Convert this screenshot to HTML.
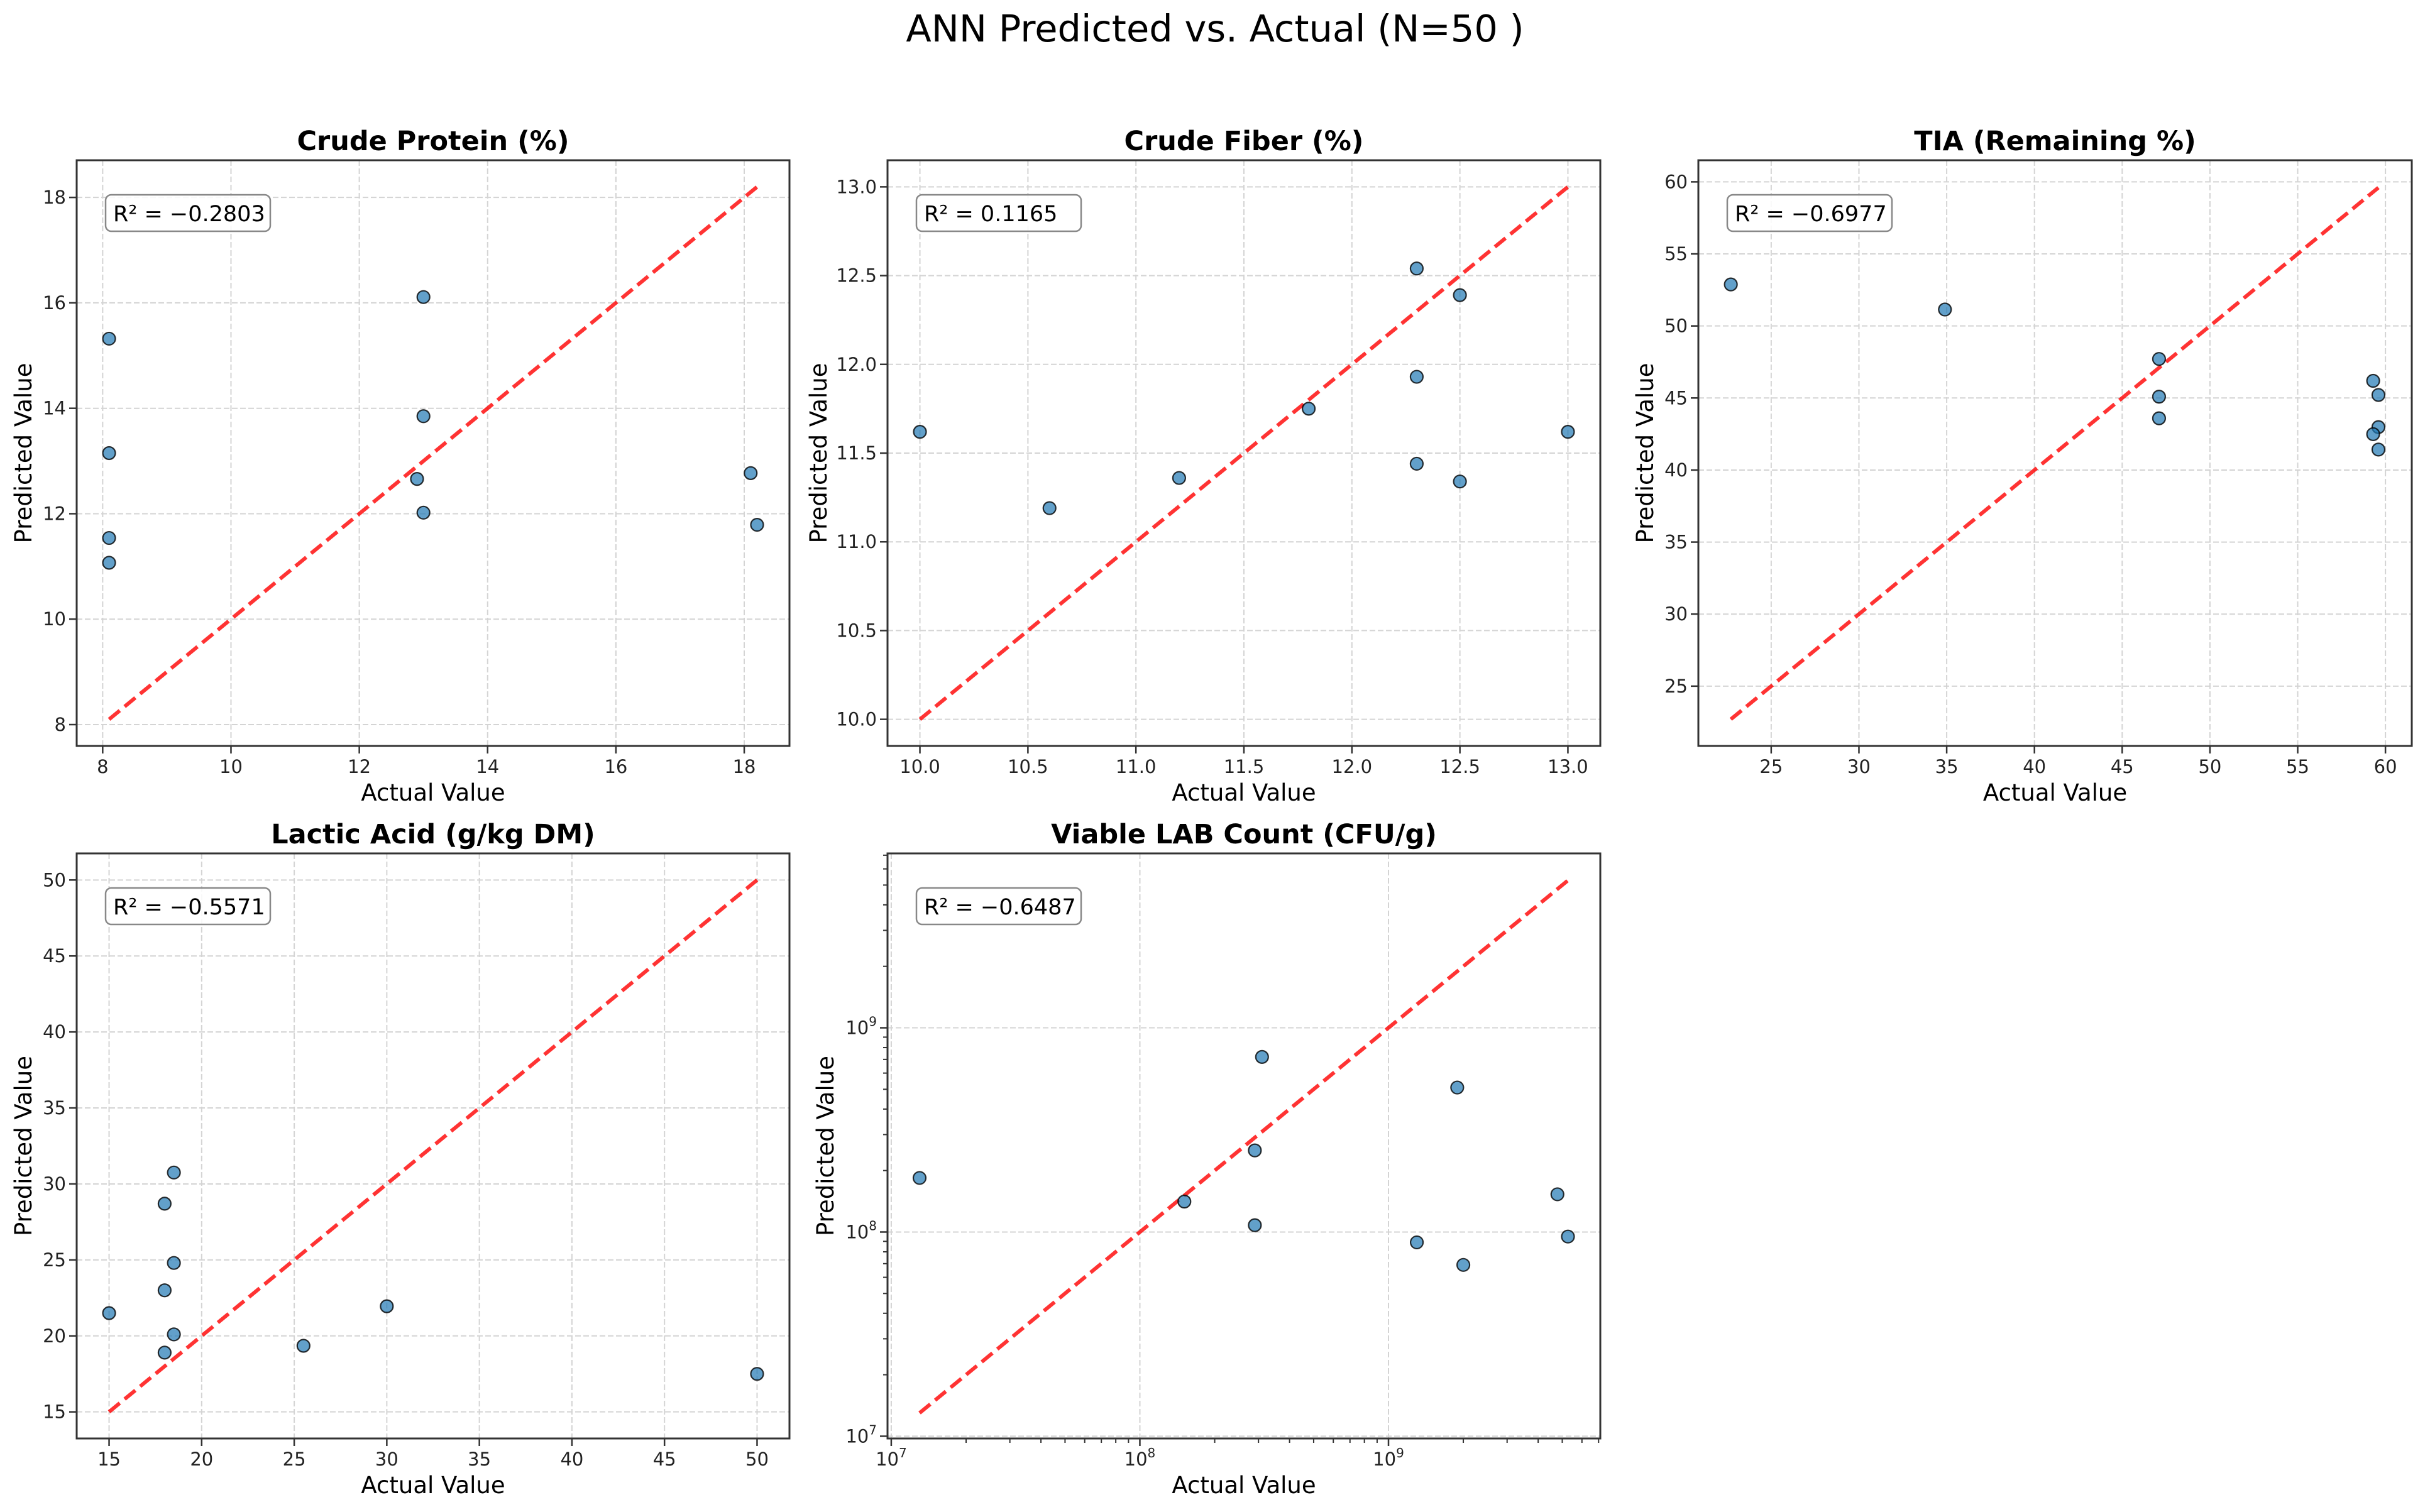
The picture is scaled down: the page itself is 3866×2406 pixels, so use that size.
<!DOCTYPE html>
<html><head><meta charset="utf-8"><style>
html,body{margin:0;padding:0;background:#fff;}
svg{display:block;font-family:"DejaVu Sans","Liberation Sans",sans-serif;}
</style></head><body>
<svg id="fig" width="3866" height="2406" viewBox="0 0 3866 2406" xmlns="http://www.w3.org/2000/svg">
<rect width="3866" height="2406" fill="#fff"/>
<text x="1933" y="66" text-anchor="middle" font-size="59" fill="#000">ANN Predicted vs. Actual (N=50 )</text>
</svg>
<script>
// ---- data ----
const cpActual = [8.1, 8.1, 8.1, 8.1, 13.0, 13.0, 12.9, 13.0, 18.1, 18.2];
const cpPred   = [15.32, 13.15, 11.54, 11.07, 16.11, 13.85, 12.66, 12.02, 12.77, 11.79];
const cfActual = [10.0, 10.6, 11.2, 11.8, 12.3, 12.3, 12.3, 12.5, 12.5, 13.0];
const cfPred   = [11.62, 11.19, 11.36, 11.75, 12.54, 11.93, 11.44, 12.39, 11.34, 11.62];
const tiaActual = [22.7, 34.9, 47.1, 47.1, 47.1, 59.3, 59.6, 59.6, 59.3, 59.6];
const tiaPred   = [52.88, 51.14, 47.71, 45.09, 43.59, 46.19, 45.21, 42.98, 42.49, 41.42];
const laActual = [15, 18, 18, 18, 18.5, 18.5, 18.5, 25.5, 30, 50];
const laPred   = [21.5, 28.7, 23.0, 18.9, 30.75, 24.8, 20.1, 19.35, 21.95, 17.5];
const labActual = [1.3e7, 1.51e8, 2.9e8, 2.9e8, 3.1e8, 1.3e9, 1.89e9, 2.0e9, 4.78e9, 5.27e9];
const labPred   = [1.84e8, 1.41e8, 1.08e8, 2.51e8, 7.2e8, 8.9e7, 5.1e8, 6.9e7, 1.53e8, 9.5e7];
const cpTicks = [8, 10, 12, 14, 16, 18];
const cpTickLabels = ["8","10","12","14","16","18"];
const cfTicks = [10, 10.5, 11, 11.5, 12, 12.5, 13];
const cfTickLabels = ["10.0","10.5","11.0","11.5","12.0","12.5","13.0"];
const tiaXTicks = [25, 30, 35, 40, 45, 50, 55, 60];
const tiaYTicks = [25, 30, 35, 40, 45, 50, 55, 60];
const laTicks = [15, 20, 25, 30, 35, 40, 45, 50];
const labExps = [7, 8, 9];
const titles = ["Crude Protein (%)", "Crude Fiber (%)", "TIA (Remaining %)", "Lactic Acid (g/kg DM)", "Viable LAB Count (CFU/g)"];
const r2Values = ["\u22120.2803", "0.1165", "\u22120.6977", "\u22120.5571", "\u22120.6487"];

const NS = "http://www.w3.org/2000/svg";
const svg = document.getElementById('fig');
function mk(tag, attrs, parent) {
  const e = document.createElementNS(NS, tag);
  for (const k in attrs) e.setAttribute(k, attrs[k]);
  (parent || svg).appendChild(e);
  return e;
}

const panels = [
  {L:122,R:1256,T:255,B:1187,xmin:7.595,xmax:18.705,ymin:7.595,ymax:18.705,log:false,ax:cpActual,pr:cpPred,xt:cpTicks,xtl:cpTickLabels,yt:cpTicks,ytl:cpTickLabels,ylx:37},
  {L:1412,R:2546,T:255,B:1187,xmin:9.85,xmax:13.15,ymin:9.85,ymax:13.15,log:false,ax:cfActual,pr:cfPred,xt:cfTicks,xtl:cfTickLabels,yt:cfTicks,ytl:cfTickLabels,ylx:1302},
  {L:2702,R:3837,T:255,B:1187,xmin:20.85,xmax:61.5,ymin:20.85,ymax:61.5,log:false,ax:tiaActual,pr:tiaPred,xt:tiaXTicks,xtl:tiaXTicks.map(String),yt:tiaYTicks,ytl:tiaYTicks.map(String),ylx:2617},
  {L:122,R:1256,T:1358,B:2289,xmin:13.25,xmax:51.75,ymin:13.25,ymax:51.75,log:false,ax:laActual,pr:laPred,xt:laTicks,xtl:laTicks.map(String),yt:laTicks,ytl:laTicks.map(String),ylx:37},
  {L:1412,R:2546,T:1358,B:2289,xmin:6.985,xmax:9.852,ymin:6.989,ymax:9.854,log:true,ax:labActual,pr:labPred,xt:labExps,yt:labExps,ylx:1313}
];

panels.forEach((p, i) => {
  const tf = p.log ? (v => Math.log10(v)) : (v => v);
  const sx = v => p.L + (tf(v) - p.xmin) / (p.xmax - p.xmin) * (p.R - p.L);
  const sy = v => p.B - (tf(v) - p.ymin) / (p.ymax - p.ymin) * (p.B - p.T);
  const g = mk('g', {});
  
  
  const xs = p.log ? p.xt.map(e => Math.pow(10, e)) : p.xt;
  const ys = p.log ? p.yt.map(e => Math.pow(10, e)) : p.yt;
  xs.forEach(v => { const l = mk('line', {x1:sx(v),x2:sx(v),y1:p.T,y2:p.B,stroke:'#d4d4d4','stroke-width':2,'stroke-dasharray':'9 4'}, g);
      });
  ys.forEach(v => { const l = mk('line', {x1:p.L,x2:p.R,y1:sy(v),y2:sy(v),stroke:'#d4d4d4','stroke-width':2,'stroke-dasharray':'9 4'}, g);
      });
  if (p.log) {
    for (let e = 6; e <= 9; e++) for (let m = 2; m <= 9; m++) {
      const v = m * Math.pow(10, e), lv = Math.log10(v);
      if (lv > p.xmin && lv < p.xmax) { const t = mk('line',{x1:sx(v),x2:sx(v),y1:p.B,y2:p.B+7,stroke:'#333','stroke-width':2},g);
          }
      if (lv > p.ymin && lv < p.ymax) { const t = mk('line',{x1:p.L,x2:p.L-7,y1:sy(v),y2:sy(v),stroke:'#333','stroke-width':2},g);
          }
    }
  }
  xs.forEach((v, k) => {
    const t = mk('line',{x1:sx(v),x2:sx(v),y1:p.B,y2:p.B+12,stroke:'#333','stroke-width':2.5},g);
     
    const tx = mk('text',{x:sx(v),y:p.B+43,'text-anchor':'middle','font-size':29,fill:'#222'},g);
     
    if (p.log) { tx.textContent = '10'; const s = mk('tspan',{dy:-13,'font-size':20},tx); s.textContent = String(p.xt[k]); }
    else tx.textContent = p.xtl[k];
  });
  ys.forEach((v, k) => {
    const t = mk('line',{x1:p.L,x2:p.L-12,y1:sy(v),y2:sy(v),stroke:'#333','stroke-width':2.5},g);
     
    const tx = mk('text',{x:p.L-17,y:sy(v)+10,'text-anchor':'end','font-size':29,fill:'#222'},g);
     
    if (p.log) { tx.textContent = '10'; const s = mk('tspan',{dy:-13,'font-size':20},tx); s.textContent = String(p.yt[k]); }
    else tx.textContent = p.ytl[k];
  });
  const all = p.ax.concat(p.pr);
  const lo = Math.min(...all), hi = Math.max(...all);
  const d = mk('line',{x1:sx(lo),y1:sy(lo),x2:sx(hi),y2:sy(hi),stroke:'#ff0000','stroke-opacity':0.8,'stroke-width':6,'stroke-dasharray':'22 10'},g);
   
  p.ax.forEach((a, k) => {
    const c = mk('circle',{cx:sx(a),cy:sy(p.pr[k]),r:10,fill:'#1f77b4','fill-opacity':0.7,stroke:'#000','stroke-opacity':0.8,'stroke-width':2.2},g);
     
  });
  const sp = mk('rect',{x:p.L,y:p.T,width:p.R-p.L,height:p.B-p.T,fill:'none',stroke:'#333','stroke-width':3},g);
   
  const bx = mk('rect',{x:p.L+46,y:p.T+55,width:262,height:58,rx:9,fill:'#fff','fill-opacity':0.85,stroke:'#888','stroke-width':2.5},g);
   
  const rt = mk('text',{x:p.L+58,y:p.T+97,'font-size':35,fill:'#000'},g);
   
  rt.textContent = 'R\u00B2 = ' + r2Values[i];
  const ti = mk('text',{x:(p.L+p.R)/2,y:p.T-16,'text-anchor':'middle','font-size':43,'font-weight':'bold',fill:'#000'},g);
   
  ti.textContent = titles[i];
  const xl = mk('text',{x:(p.L+p.R)/2,y:p.B+87,'text-anchor':'middle','font-size':37,fill:'#000'},g);
   
  xl.textContent = 'Actual Value';
  const yl = mk('text',{x:p.ylx+13,y:(p.T+p.B)/2,'text-anchor':'middle','font-size':37,fill:'#000',transform:'rotate(-90 '+(p.ylx+13)+' '+((p.T+p.B)/2)+')'},g);
   
  yl.textContent = 'Predicted Value';
});
</script>
</body></html>
